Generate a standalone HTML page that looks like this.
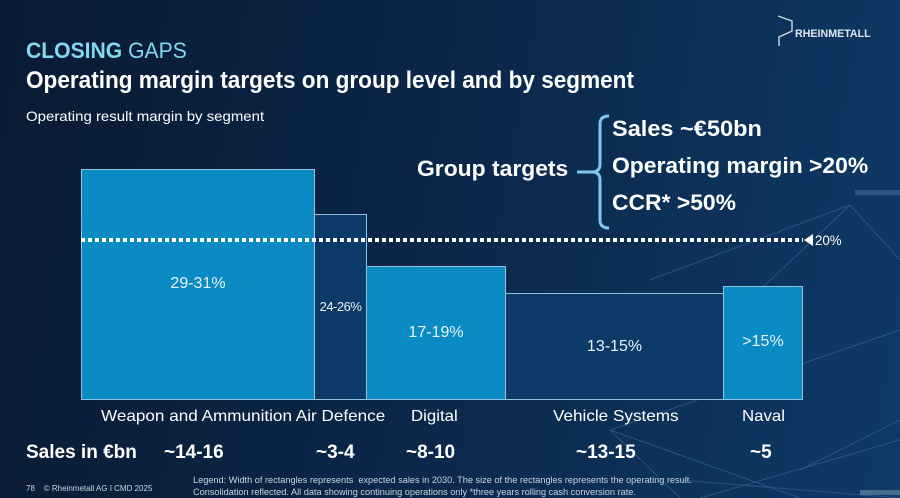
<!DOCTYPE html>
<html><head><meta charset="utf-8"><style>
body{margin:0;width:900px;height:498px;overflow:hidden;font-family:"Liberation Sans",sans-serif;}
#bg{position:absolute;left:0;top:0;width:900px;height:498px;background:linear-gradient(100deg,#0a1a33 0%,#0b2648 45%,#0e3a66 100%);overflow:hidden}
.t{position:absolute;color:#fff;white-space:nowrap;transform-origin:0 0}
.b{position:absolute;box-sizing:border-box;border:1px solid #8fc3e0}
.l{background:#0a8bc3}
.d{background:#0b3a68}
.c{position:absolute;color:#eaf4fb;font-size:16px;text-align:center;width:100%}
</style></head><body><div id="bg">
<svg width="900" height="498" style="position:absolute;left:0;top:0">
<g stroke="#3d6d96" stroke-width="1" opacity="0.6" fill="none">
<line x1="610" y1="430" x2="900" y2="330"/><line x1="610" y1="430" x2="800" y2="498"/>
<line x1="610" y1="430" x2="680" y2="498"/><line x1="800" y1="470" x2="900" y2="420"/>
<line x1="680" y1="480" x2="900" y2="498"/><line x1="850" y1="205" x2="760" y2="290"/>
<line x1="850" y1="205" x2="900" y2="260"/><line x1="650" y1="280" x2="850" y2="205"/>
<line x1="700" y1="498" x2="900" y2="440"/>
</g>
<rect x="855" y="190" width="45" height="5" fill="#3e6b92" opacity="0.6"/>
<rect x="860" y="490" width="40" height="5" fill="#6d8fae" opacity="0.6"/>
<path d="M778 16 L792 21 L792 31 L779 37 L779 46" stroke="#c9d6e2" stroke-width="1.4" fill="none"/>
<path d="M609 116 Q600 116 600 124 L600 164 Q600 172 592 172 Q600 172 600 180 L600 220 Q600 228 609 228" stroke="#7fc6ef" stroke-width="3" fill="none"/>
<line x1="577" y1="172" x2="592" y2="172" stroke="#7fc6ef" stroke-width="3"/>
</svg>
<div class="t" style="left:795px;top:28px;font-size:11px;color:#dfe7ef;font-weight:bold;transform:scaleX(.97)">RHEINMETALL</div>
<div class="t" style="left:26px;top:38px;font-size:22px;color:#7fdaf0;transform:scaleX(.96)"><b>CLOSING</b> GAPS</div>
<div class="t" style="left:26px;top:67px;font-size:24px;font-weight:bold;transform:scaleX(.94)">Operating margin targets on group level and by segment</div>
<div class="t" style="left:26px;top:108px;font-size:14px;transform:scaleX(1.07)">Operating result margin by segment</div>
<div class="t" style="left:417px;top:156px;font-size:22px;font-weight:bold;transform:scaleX(1.04)">Group targets</div>
<div class="t" style="left:612px;top:116px;font-size:22px;font-weight:bold;transform:scaleX(1.07)">Sales ~€50bn</div>
<div class="t" style="left:612px;top:153px;font-size:22px;font-weight:bold;transform:scaleX(1.04)">Operating margin &gt;20%</div>
<div class="t" style="left:612px;top:190px;font-size:22px;font-weight:bold;transform:scaleX(1.04)">CCR* &gt;50%</div>
<div class="t" style="left:815px;top:232px;font-size:14px;transform:scaleX(.95)">20%</div>

<div class="b l" style="left:81px;top:169px;width:234px;height:231px"><div class="c" style="top:105px">29-31%</div></div>
<div class="b d" style="left:314px;top:214px;width:53px;height:186px"><div class="c" style="top:84px;font-size:13px;letter-spacing:-.5px">24-26%</div></div>
<div class="b l" style="left:366px;top:266px;width:140px;height:134px"><div class="c" style="top:57px">17-19%</div></div>
<div class="b d" style="left:505px;top:293px;width:219px;height:107px"><div class="c" style="top:44px">13-15%</div></div>
<div class="b l" style="left:723px;top:286px;width:80px;height:114px"><div class="c" style="top:46px">&gt;15%</div></div>

<svg width="900" height="498" style="position:absolute;left:0;top:0">
<line x1="81" y1="240" x2="803" y2="240" stroke="#fff" stroke-width="4" stroke-dasharray="4,3"/>
<polygon points="804,240 813,234 813,246" fill="#fff"/>
</svg>

<div class="t" style="left:101px;top:408px;font-size:16px;transform:scaleX(1.07)">Weapon and Ammunition Air Defence</div>
<div class="t" style="left:411px;top:408px;font-size:16px;transform:scaleX(1.05)">Digital</div>
<div class="t" style="left:553px;top:408px;font-size:16px;transform:scaleX(1.07)">Vehicle Systems</div>
<div class="t" style="left:742px;top:408px;font-size:16px;transform:scaleX(1.05)">Naval</div>

<div class="t" style="left:26px;top:442px;font-size:19px;font-weight:bold;transform:scaleX(1.0)">Sales in €bn</div>
<div class="t" style="left:164px;top:442px;font-size:19px;font-weight:bold;transform:scaleX(1.0)">~14-16</div>
<div class="t" style="left:316px;top:442px;font-size:19px;font-weight:bold;transform:scaleX(1.0)">~3-4</div>
<div class="t" style="left:406px;top:442px;font-size:19px;font-weight:bold;transform:scaleX(1.0)">~8-10</div>
<div class="t" style="left:576px;top:442px;font-size:19px;font-weight:bold;transform:scaleX(1.0)">~13-15</div>
<div class="t" style="left:750px;top:442px;font-size:19px;font-weight:bold;transform:scaleX(1.0)">~5</div>

<div class="t" style="left:26px;top:484px;font-size:8px;color:#c9d6e2">78 &nbsp;&nbsp; © Rheinmetall AG I CMD 2025</div>
<div class="t" style="left:193px;top:474px;font-size:9px;color:#c9d6e2;transform:scaleX(1.02);line-height:12px">Legend: Width of rectangles represents &nbsp;expected sales in 2030. The size of the rectangles represents the operating result.<br>Consolidation reflected. All data showing continuing operations only *three years rolling cash conversion rate.</div>
</div></body></html>
